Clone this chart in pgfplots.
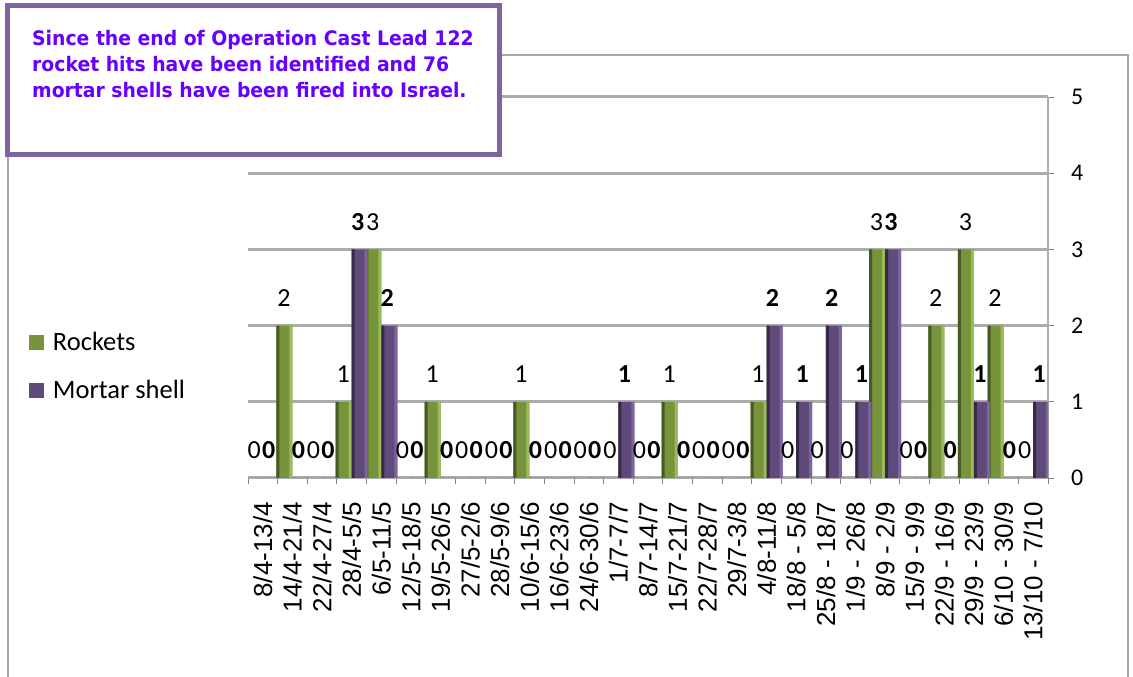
\documentclass[border=0pt]{standalone}
\usepackage{fontspec}
\usepackage{pgfplots}
\usepackage{pgfplotstable}
\pgfplotsset{compat=1.18}
\setmainfont{Carlito}
\newfontfamily\arialfont{Liberation Sans}
\newfontfamily\boxfont{DejaVu Sans}[FakeStretch=0.94]
\definecolor{rocket}{RGB}{119,147,60}
\definecolor{rocketL}{RGB}{155,187,89}
\definecolor{rocketD}{RGB}{70,90,35}
\definecolor{mortar}{RGB}{96,74,123}
\definecolor{mortarL}{RGB}{128,100,162}
\definecolor{mortarD}{RGB}{55,42,72}
\definecolor{boxframe}{RGB}{128,100,162}
\definecolor{boxtext}{RGB}{102,0,255}
\definecolor{gridc}{RGB}{172,172,172}
\pgfplotstableread{
x r m
1 0 0
2 2 0
3 0 0
4 1 3
5 3 2
6 0 0
7 1 0
8 0 0
9 0 0
10 1 0
11 0 0
12 0 0
13 0 1
14 0 0
15 1 0
16 0 0
17 0 0
18 1 2
19 0 1
20 0 2
21 0 1
22 3 3
23 0 0
24 2 0
25 3 1
26 2 0
27 0 1
}\datatab
\begin{document}
\begin{tikzpicture}[x=1pt,y=1pt]
\useasboundingbox (0,0) rectangle (1133,677);
\draw[gray!70, line width=1.5pt] (8,-5) -- (8,622) -- (1128,622) -- (1128,-5);
\begin{axis}[
  at={(248pt,199pt)}, anchor=south west,
  scale only axis, width=800pt, height=381pt,
  xmin=0.5, xmax=27.5, ymin=0, ymax=5,
  ybar, bar width=16pt,
  axis x line*=bottom, axis y line*=right,
  axis line style={draw=gridc, line width=2.5pt},
  /pgf/number format/assume math mode=true,
  xtick={1,...,27},
  xticklabels={8/4-13/4,14/4-21/4,22/4-27/4,28/4-5/5,6/5-11/5,12/5-18/5,19/5-26/5,27/5-2/6,28/5-9/6,10/6-15/6,16/6-23/6,24/6-30/6,1/7-7/7,8/7-14/7,15/7-21/7,22/7-28/7,29/7-3/8,4/8-11/8,18/8 - 5/8,25/8 - 18/7,1/9 - 26/8,8/9 - 2/9,15/9 - 9/9,22/9 - 16/9,29/9 - 23/9,6/10 - 30/9,13/10 - 7/10},
  xticklabel style={rotate=90, anchor=east, inner sep=0pt, font=\arialfont\fontsize{26}{26}\selectfont},
  xticklabel shift=18pt,
  major x tick style={draw=none},
  minor xtick={0.5,1.5,...,27.5},
  minor x tick style={draw=gray, line width=0.8pt},
  tick align=outside, major tick length=6pt, minor tick length=6pt,
  ytick={0,...,5},
  y tick style={draw=gray, line width=0.8pt},
  yticklabel style={anchor=west, inner sep=0pt, font=\fontsize{24}{24}\selectfont},
  yticklabel shift=17pt,
  ymajorgrids, major grid style={draw=gridc, line width=3pt},
  legend image code/.code={\fill[#1,draw=none] (0pt,-7.5pt) rectangle (15pt,7.5pt); \path (22pt,0pt);},
  legend style={at={(axis description cs:-0.274,0.2927)}, anchor=west, draw=none, fill=none,
    font=\fontsize{26.5}{26.5}\selectfont, row sep=24pt, inner sep=0pt},
  legend cell align=left,
]
\addplot[fill=rocket, draw=none, bar shift=-8pt, nodes near coords,
  every node near coord/.append style={font=\fontsize{26}{26}\selectfont, inner sep=0pt, anchor=south, yshift=19pt, xshift=-0.5pt}]
  table[x=x, y=r] {\datatab};
\addplot[fill=mortar, draw=none, bar shift=8pt, nodes near coords,
  every node near coord/.append style={font=\bfseries\fontsize{26}{26}\selectfont, inner sep=0pt, anchor=south, yshift=19pt, xshift=-2pt}]
  table[x=x, y=m] {\datatab};
\addplot[fill=rocketD, draw=none, bar width=3pt, bar shift=-14.5pt, forget plot] table[x=x, y=r] {\datatab};
\addplot[fill=rocketL, draw=none, bar width=3pt, bar shift=-1.5pt, forget plot] table[x=x, y=r] {\datatab};
\addplot[fill=mortarD, draw=none, bar width=3pt, bar shift=1.5pt, forget plot] table[x=x, y=m] {\datatab};
\addplot[fill=mortarL, draw=none, bar width=3pt, bar shift=14.5pt, forget plot] table[x=x, y=m] {\datatab};
\legend{Rockets, Mortar shell}
\end{axis}
\draw[boxframe, line width=5pt, fill=white] (7.5,671.5) rectangle (499.5,522.5);
\node[anchor=north west, align=left, text=boxtext, inner sep=0pt,
  font=\boxfont\bfseries\fontsize{20}{26}\selectfont] at (32,647)
  {Since the end of Operation Cast Lead 122\\rocket hits have been identified and 76\\mortar shells have been fired into Israel.};
\end{tikzpicture}
\end{document}
